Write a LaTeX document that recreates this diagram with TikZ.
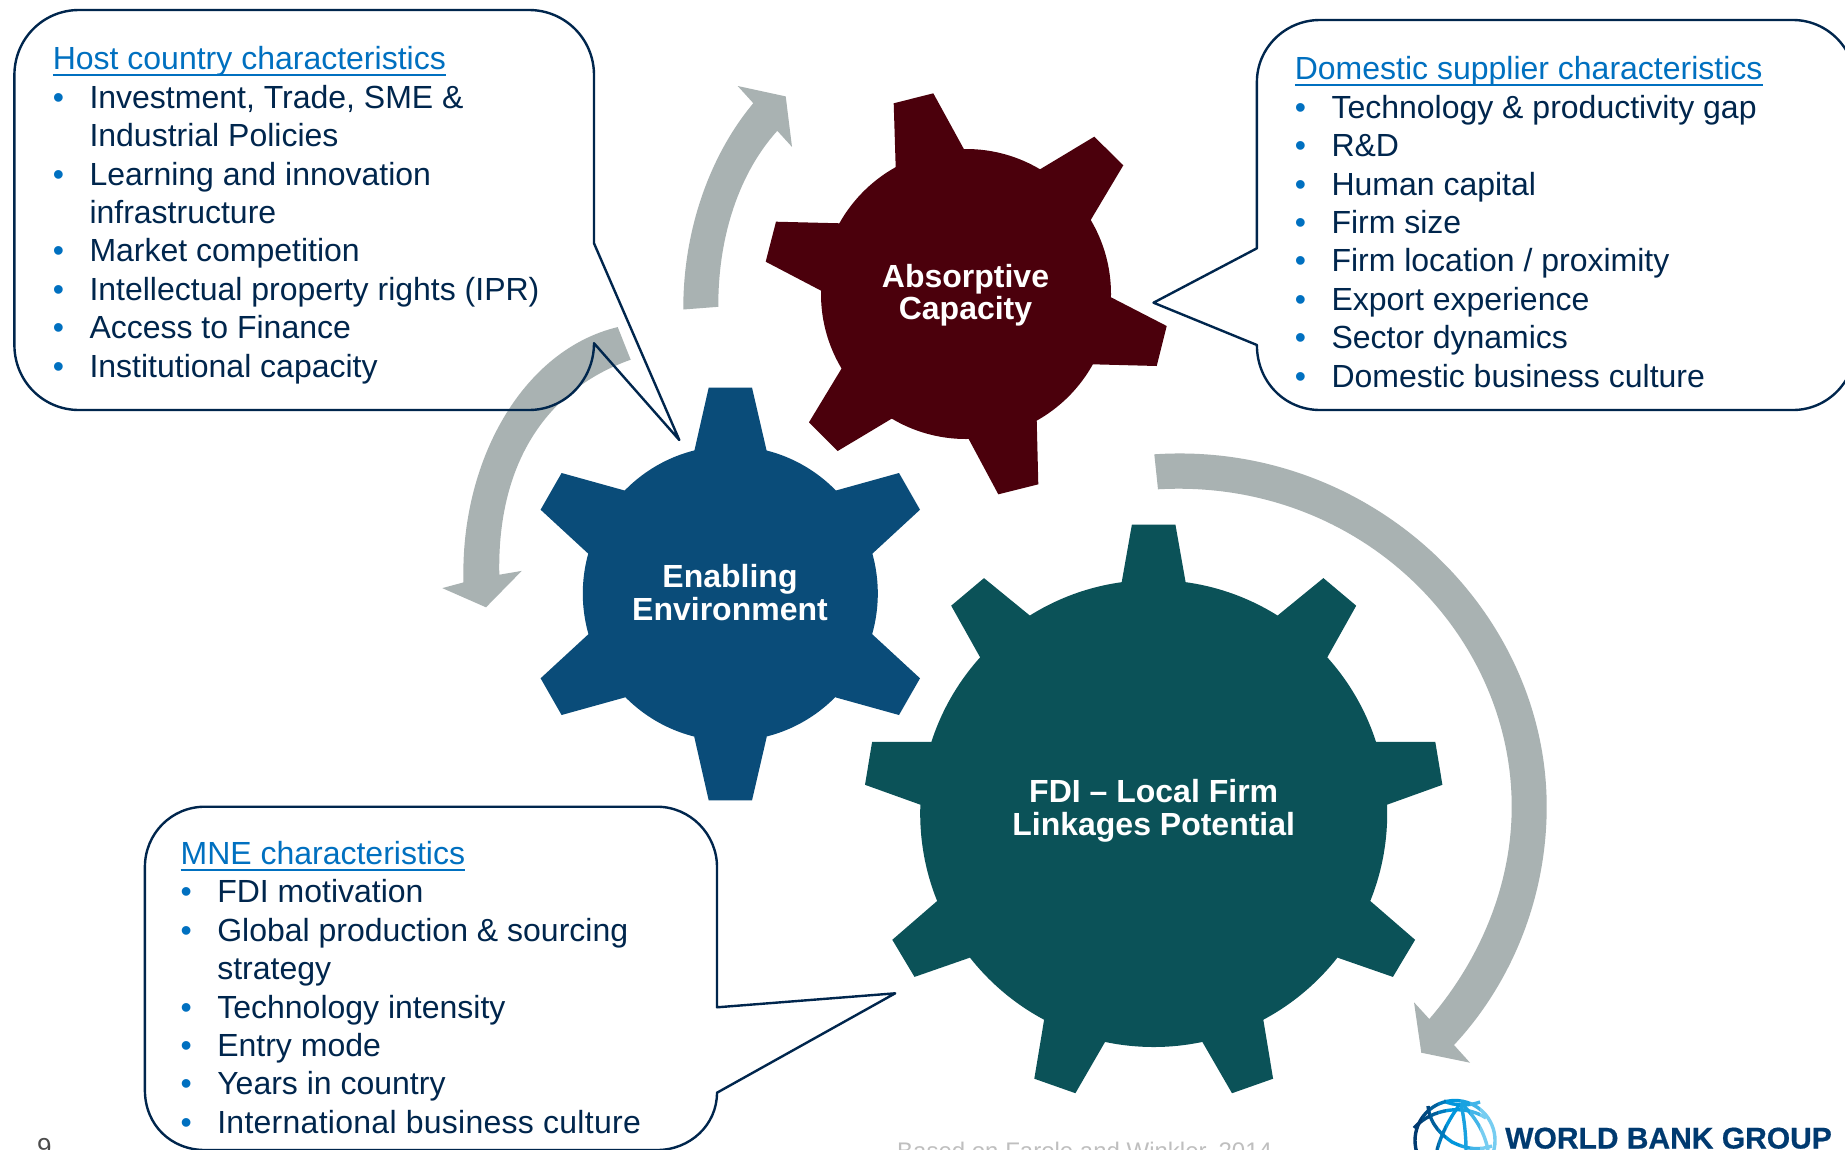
\documentclass[tikz,border=0pt]{standalone}
\usepackage{fontspec}
\setmainfont{Liberation Sans}
\definecolor{maroongear}{HTML}{4B000C}
\definecolor{bluegear}{HTML}{0A4C79}
\definecolor{tealgear}{HTML}{0B5258}
\definecolor{flowgrey}{HTML}{A9B2B2}
\definecolor{navyline}{HTML}{00264D}
\definecolor{linkblue}{HTML}{0070C0}
\definecolor{logonavy}{HTML}{003A70}
\definecolor{logocyan}{HTML}{0096DC}
\definecolor{logopale}{HTML}{A8E4FA}
\newcommand\hdunder[1]{\setbox0=\hbox{#1}\leavevmode\rlap{\color{linkblue}\rule[-6.5pt]{\wd0}{2.2pt}}\box0}
\newcommand\itm[1]{\makebox[36.7pt][l]{\textcolor{linkblue}{•}}#1}
\newcommand\cnt[1]{\hspace*{36.7pt}#1}
\newcommand\globelines{%
  \draw[globestroke] (1455,1140.5) circle[radius=40pt];
  \draw[globestroke] (1414,1128) .. controls (1432,1108) and (1465,1104) .. (1486,1118);
  \draw[globestroke] (1428,1106) .. controls (1430,1125) and (1442,1135) .. (1452,1142) .. controls (1468,1150) and (1480,1150) .. (1492,1146);
  \draw[globestroke] (1460,1104) .. controls (1450,1118) and (1442,1132) .. (1437,1150);
  \draw[globestroke] (1461,1104) .. controls (1464,1118) and (1466,1134) .. (1466,1150);
  \draw[globestroke] (1462,1104) .. controls (1474,1116) and (1484,1130) .. (1488,1150);
  \draw[globestroke] (1444,1101) .. controls (1454,1106) and (1470,1106) .. (1480,1102);
}
\tikzset{
  x=1pt,y=-1pt,
  callout/.style={draw=navyline,line width=2.4pt,line join=round},
  boxtext/.style={anchor=north west,inner sep=0pt,align=left,text=navyline,font=\fontsize{32}{38.4}\selectfont},
  geartext/.style={inner sep=0pt,align=center,text=white,font=\fontsize{32}{32.5}\selectfont\bfseries},
  flowarrow/.style={fill=flowgrey},
  globestroke/.style={line width=3.4pt},
  foot/.style={anchor=base west,inner sep=0pt}
}
\begin{document}
\begin{tikzpicture}
\clip (0,0) rectangle (1845,1149);
\fill[white] (0,0) rectangle (1845,1149);

% flow arrows
\fill[flowarrow] (683.3,309.5) .. controls (683,230) and (710,155) .. (753.3,103.2) -- (737.7,86) -- (785.7,96.4) -- (792,146.9) -- (777.3,130.8) .. controls (740,172) and (718,235) .. (718.3,306.8) -- cycle;
\fill[flowarrow] (617.7,327.1) .. controls (522,350) and (460,462) .. (463.5,582.4) -- (442.3,588.1) -- (486,607.3) -- (521.7,570.9) -- (499.3,574.7) .. controls (497,465) and (545,390) .. (630.7,359.7) -- cycle;
\fill[flowarrow] (1154.3,454.3) .. controls (1370,440) and (1546.7,610) .. (1546.7,806.7) .. controls (1546.7,900) and (1510,985) .. (1454,1045) -- (1470,1062.7) -- (1421.3,1052.7) -- (1414,1002.3) -- (1429.3,1019) .. controls (1480,960) and (1511.7,885) .. (1511.7,806.7) .. controls (1511.7,632) and (1358,478) .. (1158,489.3) -- cycle;

% Absorptive gear
\fill[maroongear] (966,294) circle[radius=145pt];
\fill[maroongear] (893.7,103.3) -- (933.3,93.3) -- (964,149.3) -- (966,294) -- (895.7,167.7) -- cycle;
\fill[maroongear] (1040,169.3) -- (1094.3,136.7) -- (1123.3,165.3) -- (1090.7,220) -- (966,294) -- cycle;
\fill[maroongear] (1111,297.3) -- (1166.7,326) -- (1156.7,366) -- (1092.7,364.3) -- (966,294) -- cycle;
\fill[maroongear] (1036.7,420) -- (1038.3,484.3) -- (998.3,494.3) -- (968.3,438.3) -- (966,294) -- cycle;
\fill[maroongear] (892.3,418.3) -- (837.7,451) -- (809,422.3) -- (841.7,368.3) -- (966,294) -- cycle;
\fill[maroongear] (821.7,291) -- (765.7,261.7) -- (776,221.7) -- (840,223.3) -- (966,294) -- cycle;
\node[geartext] (absorb) at (965.5,295) {Absorptive\\Capacity};

% Enabling gear
\fill[bluegear] (730.3,593.5) circle[radius=147.5pt];
\fill[bluegear] (708.7,387.6) -- (752,387.6) -- (766.7,451) -- (730.3,593.5) -- (694.3,451) -- cycle;
\fill[bluegear] (836,490.5) -- (899,473) -- (920,509.7) -- (872.3,553.7) -- (730.3,593.5) -- cycle;
\fill[bluegear] (624.6,490.5) -- (561.6,473) -- (540.6,509.7) -- (588.3,553.7) -- (730.3,593.5) -- cycle;
\fill[bluegear] (708.7,800.4) -- (752,800.4) -- (766.7,737) -- (730.3,593.5) -- (694.3,737) -- cycle;
\fill[bluegear] (836,697.5) -- (899,715) -- (920,678.3) -- (872.3,634.3) -- (730.3,593.5) -- cycle;
\fill[bluegear] (624.6,697.5) -- (561.6,715) -- (540.6,678.3) -- (588.3,634.3) -- (730.3,593.5) -- cycle;
\node[geartext] (enabling) at (730,592.7) {Enabling\\Environment};

% FDI gear
\fill[tealgear] (1153.7,813.5) circle[radius=233.5pt];
\fill[tealgear] (1131.9,524.5) -- (1175.4,524.5) -- (1185.7,582.7) -- (1153.7,813.5) -- (1121.6,582.7) -- cycle;
\fill[tealgear] (1029.9,615.6) -- (984,578.1) -- (951.2,605.7) -- (980.1,657.3) -- (1153.7,813.5) -- cycle;
\fill[tealgear] (1277.5,615.6) -- (1323.4,578.1) -- (1356.2,605.7) -- (1327.3,657.3) -- (1153.7,813.5) -- cycle;
\fill[tealgear] (931.9,741.9) -- (872.1,741.9) -- (865,784.8) -- (920.4,804.7) -- (1153.7,813.5) -- cycle;
\fill[tealgear] (1375.5,741.9) -- (1435.3,741.9) -- (1442.4,784.8) -- (1387,804.7) -- (1153.7,813.5) -- cycle;
\fill[tealgear] (937,901.1) -- (892.3,939.8) -- (914.5,976.9) -- (969.4,957.8) -- (1153.7,813.5) -- cycle;
\fill[tealgear] (1370.4,901.1) -- (1415.1,939.8) -- (1392.9,976.9) -- (1338,957.8) -- (1153.7,813.5) -- cycle;
\fill[tealgear] (1044.1,1019.8) -- (1034.3,1078.7) -- (1075.4,1093.2) -- (1105,1042) -- (1153.7,813.5) -- cycle;
\fill[tealgear] (1263.3,1019.8) -- (1273.1,1078.7) -- (1232,1093.2) -- (1202.4,1042) -- (1153.7,813.5) -- cycle;
\node[geartext] (fdi) at (1153.7,811) {FDI – Local Firm\\Linkages Potential};

% callouts
\draw[callout] (79,10) -- (529,10) .. controls (565,10) and (594,39) .. (594,75) -- (594,243.3) -- (679.3,440) -- (594,343.2) .. controls (594,380) and (565,410) .. (529,410) -- (79,410) .. controls (43,410) and (14.4,381) .. (14.4,345) -- (14.4,75) .. controls (14.4,39) and (43,10) .. (79,10) -- cycle;
\draw[callout] (1320,20) -- (1793,20) .. controls (1827,20) and (1855,48) .. (1855,82) -- (1855,348) .. controls (1855,382) and (1827,410) .. (1793,410) -- (1320,410) .. controls (1285,410) and (1256.9,382) .. (1256.9,345) -- (1153.5,302.7) -- (1256.9,248.3) -- (1256.9,82) .. controls (1256.9,48) and (1285,20) .. (1320,20) -- cycle;
\draw[callout] (205,806.7) -- (657,806.7) .. controls (690,806.7) and (717,834) .. (717,867) -- (717,1007.3) -- (895.2,993.3) -- (717,1092.7) .. controls (717,1125) and (690,1150) .. (657,1150) -- (205,1150) .. controls (171,1150) and (144.9,1125) .. (144.9,1090) -- (144.9,867) .. controls (144.9,834) and (171,806.7) .. (205,806.7) -- cycle;

\node[boxtext] (host) at (52.6,46.5) {\hdunder{\textcolor{linkblue}{Host country characteristics}}\\
\itm{Investment, Trade, SME \&}\\ \cnt{Industrial Policies}\\
\itm{Learning and innovation}\\ \cnt{infrastructure}\\
\itm{Market competition}\\ \itm{Intellectual property rights (IPR)}\\
\itm{Access to Finance}\\ \itm{Institutional capacity}};
\node[boxtext] (supplier) at (1294.6,56.6) {\hdunder{\textcolor{linkblue}{Domestic supplier characteristics}}\\
\itm{Technology \& productivity gap}\\ \itm{R\&D}\\ \itm{Human capital}\\ \itm{Firm size}\\
\itm{Firm location / proximity}\\ \itm{Export experience}\\ \itm{Sector dynamics}\\ \itm{Domestic business culture}};
\node[boxtext] (mne) at (180.4,841) {\hdunder{\textcolor{linkblue}{MNE characteristics}}\\
\itm{FDI motivation}\\ \itm{Global production \& sourcing}\\ \cnt{strategy}\\
\itm{Technology intensity}\\ \itm{Entry mode}\\ \itm{Years in country}\\ \itm{{\addfontfeature{LetterSpace=0.85}International business culture}}};

% footer
\node[foot,text=black!70,font=\fontsize{26}{30}\selectfont] (pageno) at (37,1156) {9};
\node[foot,text=black!25,font=\fontsize{24}{28}\selectfont] (source) at (897,1159) {Based on Farole and Winkler, 2014};

% logo
\foreach \xa/\xb/\col in {1410/1422/logonavy,1422/1430/logonavy!85!logocyan,1430/1438/logonavy!60!logocyan,1438/1446/logonavy!30!logocyan,1446/1460/logocyan,1460/1470/logocyan!85!logopale,1470/1480/logocyan!60!logopale,1480/1500/logocyan!30!logopale}{
  \begin{scope}
    \clip (\xa,1095) rectangle (\xb,1149);
    \begin{scope}[color=\col]
      \globelines
    \end{scope}
  \end{scope}
}
\node[foot,text=logonavy,font=\fontsize{30}{34}\selectfont\bfseries\addfontfeature{FakeBold=0.6}] (wbg) at (1505,1148.5) {WORLD BANK GROUP};
\end{tikzpicture}
\end{document}
